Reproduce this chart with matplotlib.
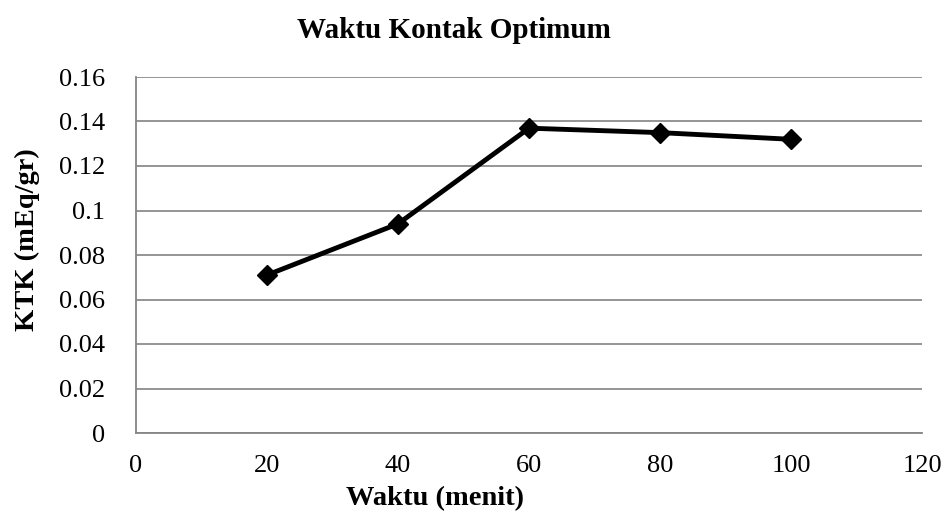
import matplotlib.pyplot as plt

plt.rcParams['font.family'] = ['Liberation Serif', 'DejaVu Serif']

# Contact time (minutes) and cation exchange capacity
waktu = [20, 40, 60, 80, 100]
ktk = [0.071, 0.094, 0.137, 0.135, 0.132]
x_ticks = [0, 20, 40, 60, 80, 100, 120]
y_ticks = [0, 0.02, 0.04, 0.06, 0.08, 0.1, 0.12, 0.14, 0.16]
y_labels = ['0', '0.02', '0.04', '0.06', '0.08', '0.1', '0.12', '0.14', '0.16']

fig = plt.figure(figsize=(9.49, 5.29), dpi=100)
ax = fig.add_axes([136/949, 1 - 433/529, (922 - 136)/949, (433 - 77)/529])

ax.plot(waktu, ktk, color='black', linewidth=3.5, marker='D', markersize=10, zorder=3)

ax.set_xlim(0, 120)
ax.set_ylim(0, 0.16)
ax.set_xticks(x_ticks)
ax.set_yticks(y_ticks)
ax.set_yticklabels(y_labels)
ax.tick_params(length=0, labelsize=19)
ax.tick_params(axis='x', pad=16)
ax.tick_params(axis='y', pad=22)

ax.grid(axis='y', color='#8c8c8c', linewidth=1.3)
ax.set_axisbelow(True)
for side in ['top', 'right']:
    ax.spines[side].set_visible(False)
for side in ['left', 'bottom']:
    ax.spines[side].set_color('#868686')
    ax.spines[side].set_linewidth(1.3)

ax.set_xlabel('Waktu (menit)', fontsize=20.5, fontweight='bold')
ax.xaxis.set_label_coords((435 - 136)/786, -(499 - 433)/356)
ax.xaxis.label.set_va('center')
ax.set_ylabel('KTK (mEq/gr)', fontsize=20.5, fontweight='bold')
ax.yaxis.set_label_coords(-(136 - 27)/786, (433 - 240)/356)
ax.yaxis.label.set_va('center')
fig.text(454/949, 1 - 30/529, 'Waktu Kontak Optimum', ha='center', va='center',
         fontsize=21, fontweight='bold')

fig.savefig('out.png', dpi=100)
